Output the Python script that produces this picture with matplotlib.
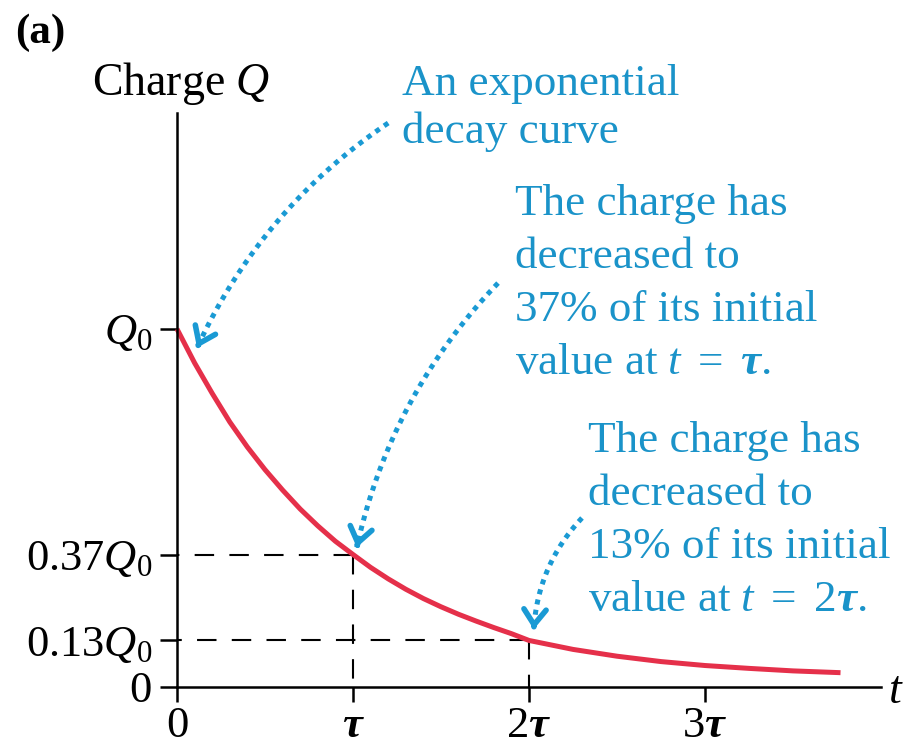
import numpy as np
import matplotlib
matplotlib.use('Agg')
import matplotlib.pyplot as plt

plt.rcParams['font.family'] = 'Liberation Serif'
plt.rcParams['mathtext.fontset'] = 'custom'
plt.rcParams['mathtext.rm'] = 'Liberation Serif'
plt.rcParams['mathtext.it'] = 'Liberation Serif:italic'
plt.rcParams['mathtext.bf'] = 'Liberation Serif:bold'
plt.rcParams['mathtext.bfit'] = 'Liberation Serif:bold:italic'
plt.rcParams['lines.scale_dashes'] = False

# time in units of tau, charge in units of Q0
t = [0, 0.1, 0.2, 0.3, 0.4, 0.5, 0.6, 0.7, 0.8, 0.9, 1.0,
     1.1, 1.2, 1.3, 1.4, 1.5, 1.6, 1.7, 1.8, 1.9, 2.0,
     2.25, 2.5, 2.75, 3.0, 3.25, 3.5, 3.77]
q = [1.0, 0.905, 0.82, 0.74, 0.67, 0.607, 0.55, 0.497, 0.45, 0.407, 0.37,
     0.334, 0.302, 0.273, 0.247, 0.224, 0.203, 0.184, 0.166, 0.149, 0.13,
     0.105, 0.086, 0.071, 0.06, 0.052, 0.045, 0.04]

t_ticks = [0, 1, 2, 3]
t_labels = ['0', r'$\mathbfit{\tau}$', r'$2\mathbfit{\tau}$', r'$3\mathbfit{\tau}$']
q_ticks = [0, 0.13, 0.37, 1.0]
q_labels = ['0', r'$0.13Q_0$', r'$0.37Q_0$', r'$Q_0$']

# points marked with dashed guides: (t, Q)
marked_t = [1, 2]
marked_q = [0.37, 0.13]

notes = [
    ['An exponential', 'decay curve'],
    ['The charge has', 'decreased to', '37% of its initial', r'value at $t\ =\ \mathbfit{\tau}$.'],
    ['The charge has', 'decreased to', '13% of its initial', r'value at $t\ =\ 2\mathbfit{\tau}$.'],
]

W, H = 905, 747
red = '#E5304A'
blue_txt = '#1A93C9'
blue_arr = '#1A9AD4'

fig = plt.figure(figsize=(W / 100, H / 100), dpi=100)
ax = fig.add_axes([177 / W, 60 / H, 704 / W, 574 / H])
ax.set_xlim(0, 4.0)
ax.set_ylim(0, 1.603)
for s in ['top', 'right']:
    ax.spines[s].set_visible(False)
for s in ['left', 'bottom']:
    ax.spines[s].set_linewidth(1.8)

ax.set_xticks(t_ticks)
ax.set_xticklabels(t_labels)
ax.set_yticks(q_ticks)
ax.set_yticklabels(q_labels)
ax.tick_params(axis='x', direction='out', length=11, width=1.8, labelsize=32, pad=3)
ax.tick_params(axis='y', direction='out', length=12, width=1.8, labelsize=32, pad=6)

# dashed guides back to the axes
for tm, qm in zip(marked_t, marked_q):
    ax.plot([tm, 0], [qm, qm], color='black', lw=1.5, dashes=(14, 11))
    ax.plot([tm, tm], [qm, 0], color='black', lw=1.5, dashes=(14, 11))

ax.plot(t, q, color=red, lw=3.6, solid_capstyle='butt', solid_joinstyle='round', clip_on=False)

ax.text(4.04, 0, '$t$', fontsize=33, va='center_baseline', ha='left')
fig.text(181 / W, 1 - 95 / H, 'Charge $Q$', fontsize=33, ha='center', va='baseline')
fig.text(15 / W, 1 - 43 / H, '(a)', fontsize=31, fontweight='bold', va='baseline')

# annotation text, one baseline per line (figure pixels)
note_x = [402, 515, 588]
note_y0 = [95, 215, 452]
note_dy = [48, 53, 53]
for lines, x0, y0, dy in zip(notes, note_x, note_y0, note_dy):
    for i, line in enumerate(lines):
        fig.text(x0 / W, 1 - (y0 + i * dy) / H, line, fontsize=32.5, color=blue_txt,
                 ha='left', va='baseline')


def dotted_arrow(start, target, rad, shrink):
    tr = ax.transData
    p0 = tr.transform(start)
    p2 = tr.transform(target)
    d = p2 - p0
    p2 = p2 - d / np.hypot(*d) * shrink
    d = p2 - p0
    p1 = (p0 + p2) / 2 + rad * np.array([d[1], -d[0]])
    s = np.linspace(0, 1, 80)[:, None]
    pts = (1 - s) ** 2 * p0 + 2 * (1 - s) * s * p1 + s ** 2 * p2
    xy = tr.inverted().transform(pts)
    ax.plot(xy[:, 0], xy[:, 1], color=blue_arr, lw=3.6, linestyle=(0, (3.6, 3.9)),
            dash_capstyle='butt', clip_on=False)
    tang = (p2 - p1) / np.hypot(*(p2 - p1))
    tail = tr.inverted().transform(p2 - tang * 3)
    ax.annotate('', xy=xy[-1], xytext=tail, annotation_clip=False,
                arrowprops=dict(arrowstyle='->,head_length=0.55,head_width=0.4',
                                mutation_scale=20, color=blue_arr, lw=4.0,
                                shrinkA=0, shrinkB=0))


dotted_arrow((1.2, 1.575), (0.077, 0.926), 0.14, 10)
dotted_arrow((1.824, 1.128), (marked_t[0], marked_q[0]), 0.14, 8)
dotted_arrow((2.301, 0.472), (marked_t[1], marked_q[1]), 0.18, 12)

fig.savefig('out.png', dpi=100)
